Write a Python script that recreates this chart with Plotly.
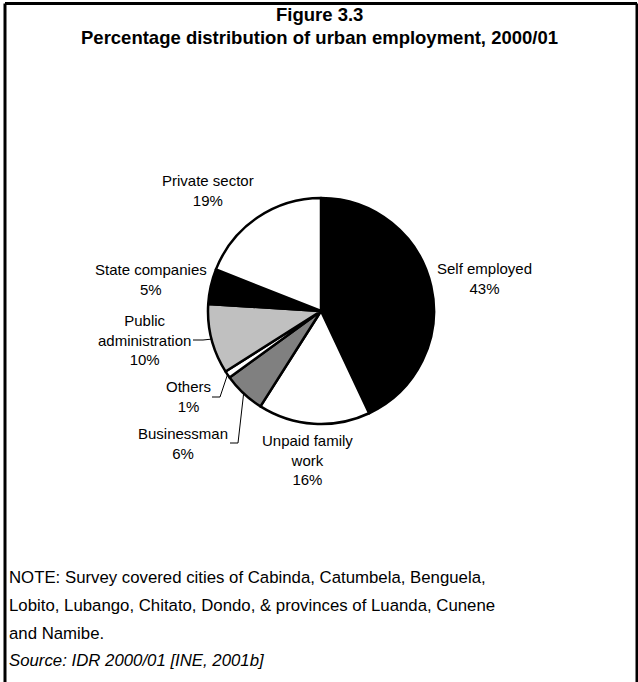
import math
import plotly.graph_objects as go

# Urban employment shares, 2000/01 (percent), clockwise from 12 o'clock
categories = ["Self employed", "Unpaid family work", "Businessman", "Others",
              "Public administration", "State companies", "Private sector"]
shares = [43, 16, 6, 1, 10, 5, 19]
label_lines = [["Self employed"], ["Unpaid family", "work"], ["Businessman"], ["Others"],
               ["Public", "administration"], ["State companies"], ["Private sector"]]

slice_colors = ["#000000", "#ffffff", "#808080", "#ffffff", "#c0c0c0", "#000000", "#ffffff"]

W, H = 638, 682
CX, CY, R = 321, 311, 113          # pie centre and radius in pixels

def px(x):
    return x / W

def py(y):
    return 1 - y / H

# label block centres (pixels)
label_pos = {
    "Self employed": (484, 278),
    "Unpaid family work": (307, 460),
    "Businessman": (183, 443),
    "Others": (188, 396),
    "Public administration": (144, 340),
    "State companies": (151, 279),
    "Private sector": (208, 191),
}

FONT = "Liberation Sans, Arial, sans-serif"

fig = go.Figure(go.Pie(
    labels=categories,
    values=shares,
    sort=False,
    direction="clockwise",
    rotation=0,
    marker=dict(colors=slice_colors, line=dict(color="#000000", width=2.5)),
    textinfo="none",
    hoverinfo="label+percent",
    showlegend=False,
    domain=dict(x=[px(CX - R), px(CX + R)], y=[py(CY + R), py(CY - R)]),
))

annotations = []
total = sum(shares)
for name, lines, v in zip(categories, label_lines, shares):
    x, y = label_pos[name]
    text = "<br>".join(lines + [f"{round(100 * v / total)}%"])
    annotations.append(dict(
        x=px(x), y=py(y), xref="paper", yref="paper", text=text, showarrow=False,
        xanchor="center", yanchor="middle", align="center",
        font=dict(family=FONT, size=15, color="#000000"),
    ))

# Leader lines for the small slices: elbow points in pixels, ending on the slice mid-angle
leaders = {
    "Others": [(212, 397), (220, 397)],
    "Businessman": [(230, 443), (238, 443)],
    "Public administration": [(193, 340), (203, 340)],
}
shapes = []
cum = 0
mid_angle = {}
for name, v in zip(categories, shares):
    mid_angle[name] = 2 * math.pi * (cum + v / 2) / total
    cum += v
for name, pts in leaders.items():
    a = mid_angle[name]
    ex, ey = CX + R * math.sin(a), CY - R * math.cos(a)
    path_pts = pts + [(ex, ey)]
    for (x0, y0), (x1, y1) in zip(path_pts[:-1], path_pts[1:]):
        shapes.append(dict(type="line", xref="paper", yref="paper",
                           x0=px(x0), y0=py(y0), x1=px(x1), y1=py(y1),
                           line=dict(color="#000000", width=1)))

# Frame around the figure (bottom edge runs off the page)
for x0, y0, x1, y1 in [(5, 3.5, 637, 3.5), (5, 3.5, 5, 700), (637, 3.5, 637, 700)]:
    shapes.append(dict(type="line", xref="paper", yref="paper",
                       x0=px(x0), y0=py(y0), x1=px(x1), y1=py(y1),
                       line=dict(color="#000000", width=3)))

title_lines = [("Figure 3.3", 15), ("Percentage distribution of urban employment, 2000/01", 38)]
for t, y in title_lines:
    annotations.append(dict(
        x=px(320), y=py(y), xref="paper", yref="paper", text=f"<b>{t}</b>",
        showarrow=False, xanchor="center", yanchor="middle",
        font=dict(family=FONT, size=18.5, color="#000000"),
    ))

note_lines = [
    ("NOTE: Survey covered cities of Cabinda, Catumbela, Benguela,", 577),
    ("Lobito, Lubango, Chitato, Dondo, & provinces of Luanda, Cunene", 605),
    ("and Namibe.", 633),
    ("<i>Source: IDR 2000/01 [INE, 2001b]</i>", 660),
]
for t, y in note_lines:
    annotations.append(dict(
        x=px(7), y=py(y), xref="paper", yref="paper", text=t,
        showarrow=False, xanchor="left", yanchor="middle", align="left",
        font=dict(family=FONT, size=16.8, color="#000000"),
    ))

fig.update_layout(
    width=W, height=H,
    margin=dict(l=0, r=0, t=0, b=0),
    paper_bgcolor="#ffffff", plot_bgcolor="#ffffff",
    annotations=annotations, shapes=shapes,
)

fig.write_html("out.html")
